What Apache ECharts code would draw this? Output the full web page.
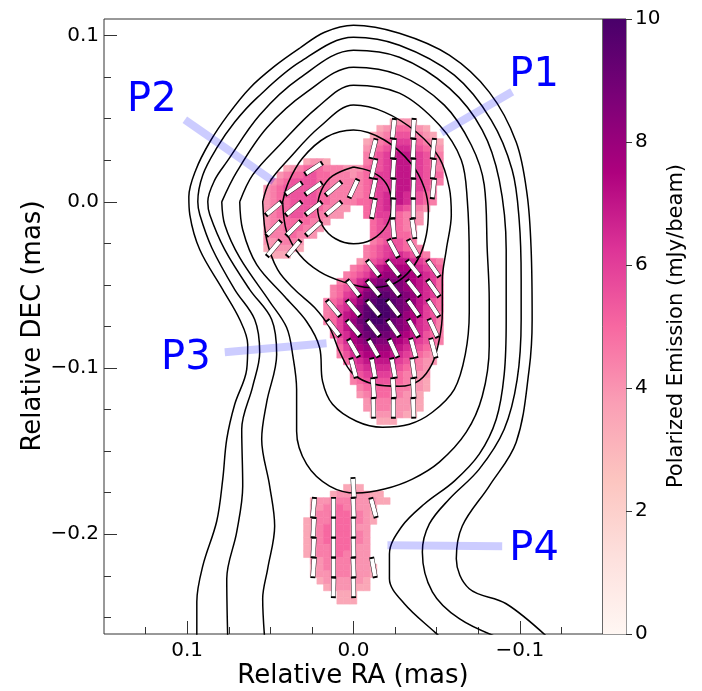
<!DOCTYPE html>
<html><head><meta charset="utf-8">
<script src="https://cdn.jsdelivr.net/npm/echarts@6/dist/echarts.min.js"></script>
<style>html,body{margin:0;padding:0;background:#fff}#c{width:702px;height:691px}</style>
</head><body><div id="c"></div>
<script>
// ---------- DATA ----------
const rdpu = ['#fff7f3','#fde0dd','#fcc5c0','#fa9fb5','#f768a1','#dd3497','#ae017e','#7a0177','#49006a'];
const cbMin = 0, cbMax = 10, cbTicks = [0,2,4,6,8,10];
const xMajor = [-0.1, 0, 0.1];
const xMinor = [-0.125,-0.075,-0.05,-0.025,0.025,0.05,0.075,0.125];
const yMajor = [-0.2, -0.1, 0, 0.1];
const yMinor = [-0.25,-0.225,-0.175,-0.15,-0.125,-0.075,-0.05,-0.025,0.025,0.05,0.075];

// polarized-intensity image: cell size (mas), centre of first column / row
const cellSize = 0.004, firstColRA = 0.052, firstRowDEC = 0.048;
// each char = value*2 in base 36 ('a' = 5 mJy/beam, 'k' = 10), '.' = blank; '|' only separates groups
const heatRows = [
"..........|.........7|887....",
"..........|.......789|aa987..",
"..........|......789a|bba987.",
"..........|.....789ab|ccba987",
"..........|.....89abc|ddcba98",
"..........|.....9abcd|eedcba9",
"......7887|.....9abcd|eedcba9",
"...789aaa9|99888abbcd|eedcba9",
"..89aabbaa|99989abccd|eedcbaa",
".89abbbbaa|99999abccd|eedcba9",
"89abbbbbaa|99999abccd|eedcb9.",
"89abbbbbaa|99999abcde|edcba9.",
"89aabbbbaa|9999aabcde|edcba9.",
"89aabbbaa9|988..abcdd|cba98..",
"89aabbaa99|88...abccb|a998...",
"899aaaa998|......abcb|a998...",
"899aaa998.|......abbb|a98....",
"8999a998..|......abbb|aa9....",
"889998....|......9abb|ba9....",
"788887....|.....9abcc|ba99...",
".777......|.....9abcd|dcba9..",
"..........|....89bcde|eedcba9",
"..........|...9abdeff|ffedcba",
"..........|..9abcefgg|ggfedca",
"..........|.9abdeghhh|hgfedca",
"..........|9abceghiii|hgfedca",
"..........|9acdfhijji|ihgedca",
".........9|abdegijkkj|ihgedba",
".........9|acdfhjkkkj|ihfecba",
".........9|acefhjkkkj|igfecb9",
".........9|acegijkkji|hgfdcb9",
"..........|aceghjjjji|hgedca9",
"..........|acdfhijiih|gfedba9",
"..........|.bdfghihhg|fedcba9",
"..........|.acefggggf|edcba9.",
"..........|.9bdeffffe|dcba98.",
"..........|..acdeeeed|cba988.",
"..........|...bcddddc|ba998..",
"..........|...abccccb|a9988..",
"..........|...9abbbba|a9887..",
"..........|....9aaaaa|99887..",
"..........|....89aaa9|9887...",
"..........|.....89999|8887...",
"..........|.....88998|8877...",
"..........|......7888|877....",
"..........|.......777|.......",
"..........|..........|.......",
"..........|..........|.......",
"..........|..........|.......",
"..........|..........|.......",
"..........|..........|.......",
"..........|..........|.......",
"..........|..........|.......",
"..........|..........|.......",
"..........|..........|.......",
"..........|..777.....|.......",
"..........|78888877..|.......",
".......788|999988877.|.......",
".......889|9a99887...|.......",
".......899|aaa9987...|.......",
"......7899|aaa9987...|.......",
"......789a|aaa988....|.......",
"......789a|aaa998....|.......",
"......789a|aaa998....|.......",
"......7899|aaa988....|.......",
"......7899|aa9988....|.......",
".......889|999988....|.......",
".......789|9998887...|.......",
".......788|9998887...|.......",
"........78|888887....|.......",
".........7|888877....|.......",
"..........|.777......|.......",
"..........|.777......|......."
];

// EVPA ticks (deg from north, + = towards east/left)
const N = null;
const evpaRA = [0.048,0.036,0.024,0.012,0,-0.012,-0.024,-0.036,-0.048];
const evpaDEC = [0.044,0.032,0.020,0.008,-0.004,-0.016,-0.028,-0.040,-0.052,-0.064,-0.076,-0.088,-0.100,-0.112,-0.124,-0.172,-0.184,-0.196,-0.208,-0.220,-0.232];
const evpaAngle = [
[N,N,N,N,N,N,-6,-4,N],
[N,N,N,N,N,-14,-5,-3,-6],
[N,N,-57,N,N,-13,-4,-2,-5],
[N,-55,-55,-50,-25,-12,-3,-2,-6],
[-50,-50,-52,-50,N,-10,-2,0,N],
[-45,-45,-48,N,N,N,5,8,N],
[-40,-40,N,N,N,N,28,30,N],
[N,N,N,N,N,38,38,38,35],
[N,N,N,N,38,40,38,38,35],
[N,N,N,40,40,40,38,35,33],
[N,N,N,38,40,38,35,30,25],
[N,N,N,N,30,30,25,15,15],
[N,N,N,N,15,10,10,8,N],
[N,N,N,N,N,4,4,3,N],
[N,N,N,N,N,1,0,2,N],
[N,N,N,N,3,N,N,N,N],
[N,N,-5,0,2,15,N,N,N],
[N,N,-3,0,1,N,N,N,N],
[N,N,-3,0,1,N,N,N,N],
[N,N,-4,0,2,10,N,N,N],
[N,N,N,-1,1,N,N,N,N]
];

// total-intensity contours, [RA, DEC] in mas
const contour1 = [[0.0942,-0.2628],[0.0942,-0.2406],[0.0906,-0.219],[0.0822,-0.192],[0.0786,-0.1668],[0.0762,-0.1428],[0.0714,-0.1218],[0.0642,-0.1008],[0.0636,-0.0858],[0.0684,-0.0708],[0.0786,-0.0528],[0.0924,-0.0288],[0.0984,-0.0078],[0.099,0.003],[0.0948,0.0192],[0.0864,0.036],[0.0756,0.0522],[0.0624,0.0684],[0.0474,0.0816],[0.0324,0.0924],[0.0174,0.102],[0,0.1062],[-0.0276,0.1014],[-0.0576,0.0882],[-0.0816,0.066],[-0.0978,0.036],[-0.1044,0.0042],[-0.1068,-0.0288],[-0.1074,-0.0708],[-0.1056,-0.1008],[-0.0978,-0.1446],[-0.0816,-0.171],[-0.0654,-0.195],[-0.0618,-0.2148],[-0.0696,-0.2328],[-0.0918,-0.2418],[-0.1176,-0.2628]];
const contour2 = [[0.0756,-0.2628],[0.0762,-0.2268],[0.0702,-0.1986],[0.0666,-0.171],[0.0672,-0.1368],[0.0606,-0.111],[0.0564,-0.0906],[0.0594,-0.0708],[0.0714,-0.0528],[0.0852,-0.0276],[0.0924,-0.0078],[0.0936,0],[0.0906,0.0162],[0.0822,0.0324],[0.0714,0.048],[0.0582,0.0624],[0.0324,0.084],[0,0.099],[-0.0276,0.0942],[-0.0606,0.0762],[-0.0828,0.0492],[-0.0954,0.0192],[-0.0996,-0.0108],[-0.1008,-0.0468],[-0.1008,-0.0708],[-0.0984,-0.1068],[-0.0906,-0.1368],[-0.0756,-0.1608],[-0.0576,-0.1788],[-0.0456,-0.1938],[-0.0414,-0.2106],[-0.0474,-0.2346],[-0.0636,-0.2508],[-0.0888,-0.2628]];
const contour3 = [[0.0534,-0.2628],[0.0546,-0.2388],[0.0516,-0.2208],[0.0474,-0.195],[0.0504,-0.171],[0.0552,-0.1428],[0.0522,-0.1206],[0.0462,-0.0918],[0.0492,-0.0708],[0.0624,-0.0528],[0.0774,-0.0288],[0.0864,-0.0078],[0.0876,0],[0.0834,0.0132],[0.0762,0.024],[0.0564,0.0522],[0.0324,0.0744],[0,0.0912],[-0.0276,0.087],[-0.0576,0.0684],[-0.0774,0.0432],[-0.0876,0.0132],[-0.0918,-0.0288],[-0.0918,-0.0708],[-0.0906,-0.1038],[-0.0858,-0.1308],[-0.0756,-0.1518],[-0.0606,-0.168],[-0.0426,-0.1818],[-0.0288,-0.1956],[-0.0216,-0.2118],[-0.0216,-0.2268],[-0.0306,-0.2418],[-0.0492,-0.2592],[-0.0546,-0.264]];
const contour4 = [[0.0792,0],[0.0774,-0.0138],[0.0684,-0.0336],[0.0504,-0.06],[0.0402,-0.0756],[0.0366,-0.0918],[0.0342,-0.1128],[0.0342,-0.138],[0.0282,-0.1578],[0.0144,-0.171],[-0.0018,-0.1752],[-0.0186,-0.1728],[-0.0354,-0.1668],[-0.0516,-0.1566],[-0.0678,-0.1386],[-0.0774,-0.117],[-0.0816,-0.087],[-0.0816,-0.0588],[-0.0804,-0.0288],[-0.0786,0.0102],[-0.0708,0.0342],[-0.0546,0.0582],[-0.0276,0.0762],[0,0.081],[0.0282,0.066],[0.0522,0.0444],[0.0702,0.018],[0.0792,0]];
const contour5 = [[0.0684,0],[0.0666,-0.0168],[0.0582,-0.0378],[0.0414,-0.057],[0.0282,-0.072],[0.0204,-0.0876],[0.0186,-0.108],[0.0126,-0.1218],[-0.0018,-0.132],[-0.0174,-0.1356],[-0.0336,-0.1338],[-0.0474,-0.1266],[-0.0606,-0.1128],[-0.0672,-0.0918],[-0.0696,-0.0666],[-0.0696,-0.0348],[-0.0684,0.0012],[-0.0648,0.0252],[-0.0516,0.0462],[-0.0276,0.0654],[0,0.0702],[0.0222,0.0564],[0.0444,0.0342],[0.0606,0.0162],[0.0684,0]];
const contour6 = [[0.0546,0],[0.0522,-0.0228],[0.0456,-0.0408],[0.0354,-0.0528],[0.0234,-0.0636],[0.0144,-0.0756],[0.0084,-0.09],[0.0006,-0.1032],[-0.0126,-0.1098],[-0.0276,-0.111],[-0.0396,-0.1074],[-0.0474,-0.0972],[-0.0516,-0.0828],[-0.0534,-0.0666],[-0.0534,-0.0468],[-0.0558,-0.0288],[-0.0588,-0.0078],[-0.0576,0.0084],[-0.0516,0.0264],[-0.0378,0.042],[-0.0186,0.054],[0,0.0582],[0.0204,0.045],[0.0384,0.0264],[0.0504,0.012],[0.0546,0]];
const contour7 = [[0.0426,0],[0.0402,-0.018],[0.0324,-0.0318],[0.0204,-0.042],[0.0066,-0.048],[-0.0096,-0.0516],[-0.0228,-0.0498],[-0.0324,-0.0432],[-0.0396,-0.033],[-0.0438,-0.0198],[-0.045,-0.006],[-0.0426,0.0084],[-0.0348,0.0228],[-0.0186,0.0372],[0,0.0432],[0.0162,0.039],[0.0306,0.0264],[0.039,0.012],[0.0426,0]];
const contour8 = [[0,0.021],[-0.0096,0.0186],[-0.018,0.0132],[-0.0222,0.0048],[-0.0228,-0.0036],[-0.0198,-0.0144],[-0.0108,-0.0228],[0,-0.0252],[0.0108,-0.0222],[0.0186,-0.0144],[0.0216,-0.0036],[0.0192,0.0072],[0.0126,0.0156],[0,0.021]];
const contours = [contour1,contour2,contour3,contour4,contour5,contour6,contour7,contour8];

// component labels and leader lines
const labelNames = ['P1','P2','P3','P4'];
const labelPos = [[-0.1086,0.0757],[0.1212,0.0608],[0.1008,-0.0944],[-0.1086,-0.2091]];
const leaderLines = [
  [[-0.0528,0.0416],[-0.0954,0.0662]],
  [[0.1014,0.0494],[0.048,0.0122]],
  [[0.0774,-0.0905],[0.0162,-0.0851]],
  [[-0.0204,-0.2066],[-0.0894,-0.2072]]
];

// ---------- BUILD ----------
const heatCells = [];
heatRows.forEach((row, r) => {
  const s = row.replace(/\|/g, '');
  for (let p = 0; p < s.length; p++) {
    const ch = s[p];
    if (ch === '.') continue;
    heatCells.push([firstColRA - p * cellSize, firstRowDEC - r * cellSize, parseInt(ch, 36) / 2]);
  }
});
const evpaData = [];
evpaAngle.forEach((row, i) => row.forEach((a, k) => {
  if (a === null) return;
  evpaData.push({ value: [evpaRA[k], evpaDEC[i]], symbolRotate: a });
}));

const fmt = v => Math.abs(v) < 1e-9 ? '0.0' : (v < 0 ? '\u2212' : '') + Math.abs(v).toFixed(1);
const FONT = 'DejaVu Sans';

function renderCell(params, api) {
  const ra = api.value(0), dec = api.value(1);
  const a = api.coord([ra + cellSize / 2, dec + cellSize / 2]);
  const b = api.coord([ra - cellSize / 2, dec - cellSize / 2]);
  const color = api.visual('color');
  return { type: 'rect',
    shape: { x: Math.min(a[0], b[0]), y: Math.min(a[1], b[1]), width: Math.abs(b[0] - a[0]), height: Math.abs(b[1] - a[1]) },
    style: { fill: color, stroke: color, lineWidth: 0.6 } };
}
function renderBar(params, api) {
  const a = api.coord([0, cbMax]), b = api.coord([1, cbMin]);
  return { type: 'rect', shape: { x: a[0], y: a[1], width: b[0] - a[0], height: b[1] - a[1] },
    style: { fill: new echarts.graphic.LinearGradient(0, 1, 0, 0,
      rdpu.map((c, i) => ({ offset: i / (rdpu.length - 1), color: c }))) } };
}

const chart = echarts.init(document.getElementById('c'), null, { renderer: 'canvas' });
const series = [
  { type: 'custom', xAxisIndex: 0, yAxisIndex: 0, data: heatCells, renderItem: renderCell, clip: true, z: 1,
    encode: { x: 0, y: 1 }, silent: true }
];
contours.forEach(c => series.push({ type: 'line', xAxisIndex: 0, yAxisIndex: 0, data: c, smooth: 0.35,
  symbol: 'none', showSymbol: false, clip: true, z: 2, silent: true,
  lineStyle: { color: '#000', width: 1.5 } }));
leaderLines.forEach(l => series.push({ type: 'line', xAxisIndex: 0, yAxisIndex: 0, data: l,
  symbol: 'none', z: 3, silent: true, lineStyle: { color: 'rgba(0,0,255,0.2)', width: 8, cap: 'butt' } }));
series.push({ type: 'scatter', xAxisIndex: 0, yAxisIndex: 0, data: evpaData, symbol: 'rect',
  symbolSize: [4.5, 19.5], z: 4, silent: true,
  itemStyle: { color: '#fff', borderColor: '#000', borderWidth: 0.9, opacity: 1 } });
series.push({ type: 'scatter', xAxisIndex: 0, yAxisIndex: 0, z: 5, silent: true, symbolSize: 1,
  itemStyle: { color: 'rgba(0,0,0,0)', opacity: 1 },
  data: labelNames.map((n, i) => ({ name: n, value: labelPos[i] })),
  label: { show: true, position: 'inside', formatter: '{b}', fontSize: 40, color: '#0000ff', opacity: 1, fontFamily: FONT } });
series.push({ type: 'custom', xAxisIndex: 2, yAxisIndex: 2, data: [[0, 0]], renderItem: renderBar, silent: true, z: 1 });

const tickStyle = { color: '#333', width: 1 };
const noLine = { show: false, onZero: false };
chart.setOption({
  animation: false,
  backgroundColor: '#fff',
  grid: [
    { left: 104, top: 19, width: 499, height: 615, show: true, borderColor: '#333', borderWidth: 1, backgroundColor: '#fff', containLabel: false },
    { left: 603, top: 19, width: 23, height: 615, show: true, borderColor: '#333', borderWidth: 1, containLabel: false }
  ],
  visualMap: [{ show: false, type: 'continuous', min: cbMin, max: cbMax, dimension: 2, seriesIndex: 0, inRange: { color: rdpu } }],
  xAxis: [
    { gridIndex: 0, type: 'value', min: -0.15, max: 0.15, inverse: true, position: 'bottom',
      axisLine: noLine, splitLine: { show: false },
      axisTick: { show: true, inside: true, length: 13, customValues: xMajor, lineStyle: tickStyle },
      axisLabel: { show: true, customValues: xMajor, formatter: fmt, fontSize: 20, color: '#000', margin: 7, fontFamily: FONT } },
    { gridIndex: 0, type: 'value', min: -0.15, max: 0.15, inverse: true, position: 'bottom',
      axisLine: noLine, splitLine: { show: false }, axisLabel: { show: false },
      axisTick: { show: true, inside: true, length: 7, customValues: xMinor, lineStyle: tickStyle } },
    { gridIndex: 1, type: 'value', min: 0, max: 1, show: false }
  ],
  yAxis: [
    { gridIndex: 0, type: 'value', min: -0.26, max: 0.11, position: 'left',
      axisLine: noLine, splitLine: { show: false },
      axisTick: { show: true, inside: true, length: 13, customValues: yMajor, lineStyle: tickStyle },
      axisLabel: { show: true, customValues: yMajor, formatter: fmt, fontSize: 20, color: '#000', margin: 5, fontFamily: FONT } },
    { gridIndex: 0, type: 'value', min: -0.26, max: 0.11, position: 'left',
      axisLine: noLine, splitLine: { show: false }, axisLabel: { show: false },
      axisTick: { show: true, inside: true, length: 7, customValues: yMinor, lineStyle: tickStyle } },
    { gridIndex: 1, type: 'value', min: cbMin, max: cbMax, position: 'right',
      axisLine: noLine, splitLine: { show: false },
      axisTick: { show: true, inside: false, length: 6, customValues: cbTicks, lineStyle: tickStyle },
      axisLabel: { show: true, customValues: cbTicks, fontSize: 20, color: '#000', margin: 9, fontFamily: FONT } }
  ],
  graphic: [
    { type: 'text', x: 353, y: 676, silent: true,
      style: { text: 'Relative RA (mas)', fontSize: 26, fontFamily: FONT, fill: '#000', align: 'center', verticalAlign: 'middle' } },
    { type: 'text', x: 33, y: 326, rotation: Math.PI / 2, silent: true,
      style: { text: 'Relative DEC (mas)', fontSize: 26, fontFamily: FONT, fill: '#000', align: 'center', verticalAlign: 'middle' } },
    { type: 'text', x: 677, y: 326, rotation: Math.PI / 2, silent: true,
      style: { text: 'Polarized Emission (mJy/beam)', fontSize: 21, fontFamily: FONT, fill: '#000', align: 'center', verticalAlign: 'middle' } }
  ],
  series: series
});
</script></body></html>
